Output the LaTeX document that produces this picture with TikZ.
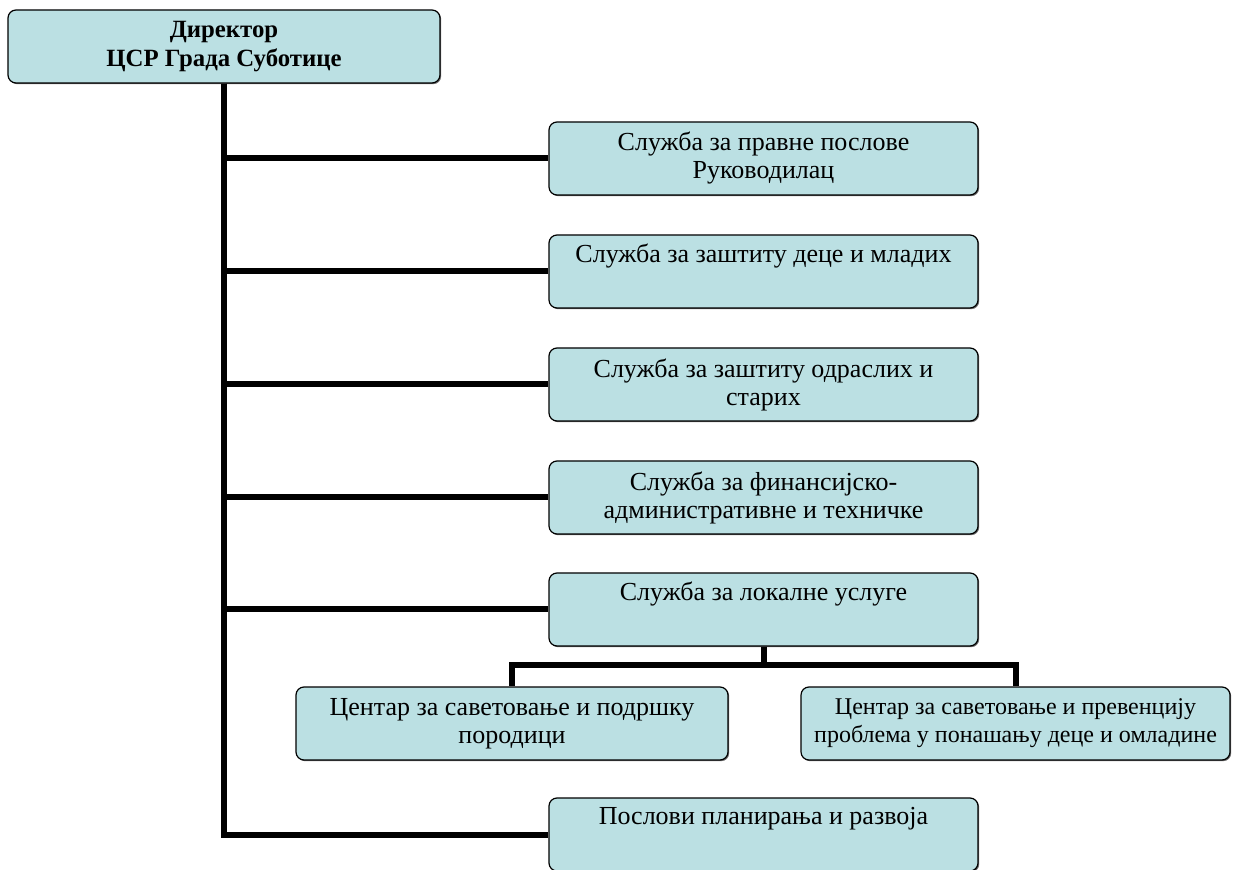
\documentclass[tikz,border=0pt]{standalone}
\usepackage{fontspec}
\setmainfont{Liberation Serif}
\usepackage{xcolor}
\usepackage{tikz}
\usetikzlibrary{shadows}
\definecolor{unitblue}{RGB}{187,224,227}
\tikzset{
    unode/.style = {align=center, inner sep=0pt, text centered},
    unit/.style = {unode, rectangle, rounded corners=4pt, draw=black, line width=0.6pt, fill=unitblue, minimum width=214.5pt, minimum height=36.5pt, font=\fontsize{13}{14}\selectfont, drop shadow={shadow xshift=0.6pt, shadow yshift=-0.6pt, fill=black!70, opacity=0.8}},
    small_unit/.style = {unit, font=\fontsize{12}{14}\selectfont},
    head_unit/.style = {unit, minimum width=216pt, font=\fontsize{12.4}{14.5}\selectfont\bfseries},
    link/.style = {draw=black, line width=3pt}
}

\begin{document}
\begin{tikzpicture}[x=0.5pt, y=-0.5pt]
    \useasboundingbox (0,0) rectangle (1241,870);
    \node [head_unit] (dir) at (224,46.5) {Директор\\ЦСР Града Суботице};
    \node [unit] (legal) at (763.5,158.5) {Служба за правне послове\\Руководилац};
    \node [unit] (youth) at (763.5,271.5) {Служба за заштиту деце и младих\\ \strut};
    \node [unit] (adult) at (763.5,384.5) {Служба за заштиту одраслих и\\старих};
    \node [unit] (fin) at (763.5,497.5) {Служба за финансијско-\\административне и техничке};
    \node [unit] (local) at (763.5,609.5) {Служба за локалне услуге\\ \strut};
    \node [unit, minimum width=216pt] (care) at (512,723.5) {Центар за саветовање и подршку\\породици};
    \node [small_unit] (prev) at (1015.5,723.5) {Центар за саветовање и превенцију\\проблема у понашању деце и омладине};
    \node [unit] (plan) at (763.5,834.5) {Послови планирања и развоја\\ \strut};
    % trunk and branches
    \foreach \u in {legal, youth, adult, fin, local, plan}
        \draw [link] (dir.south) |- (\u.west);
    \draw [link] (local.south) -- ++(0,18) -| (care.north);
    \draw [link] (local.south) -- ++(0,18) -| (prev.north);
\end{tikzpicture}
\end{document}
